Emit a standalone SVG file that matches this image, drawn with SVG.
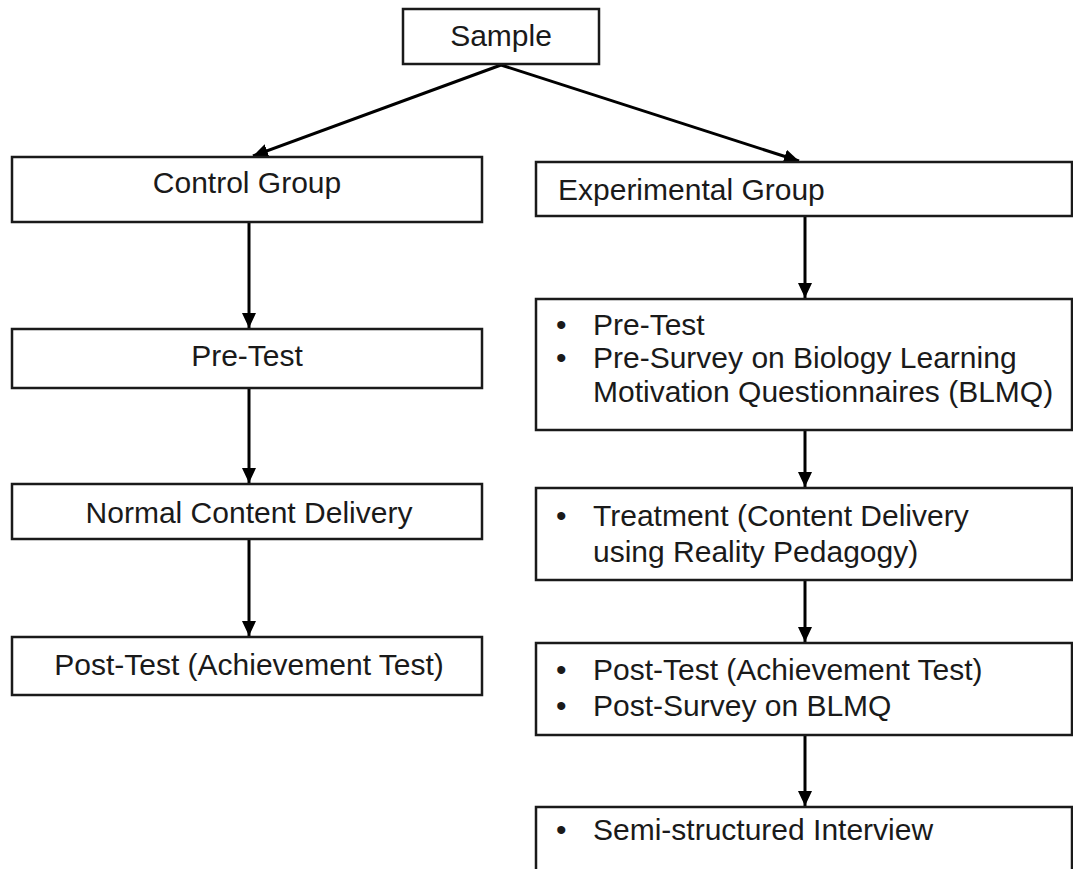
<svg xmlns="http://www.w3.org/2000/svg" width="1073" height="869" viewBox="0 0 1073 869">
  <defs>
    <style>
      .box { fill: #ffffff; stroke: #1a1a1a; stroke-width: 2.5; }
      .lbl { font-family: "Liberation Sans", Arial, sans-serif; font-size: 30px; fill: #1a1a1a; }
      .mid { text-anchor: middle; }
      .conn { stroke: #000000; stroke-width: 3; fill: none; marker-end: url(#arrow); }
    </style>
    <marker id="arrow" markerUnits="userSpaceOnUse" markerWidth="16" markerHeight="14" refX="15" refY="7" orient="auto">
      <path d="M0,0 L15,7 L0,14 z" fill="#000000"/>
    </marker>
  </defs>
  <rect width="1073" height="869" fill="#ffffff"/>

  <g id="connectors">
    <line class="conn" x1="501" y1="65" x2="253" y2="156"/>
    <line class="conn" x1="501" y1="65" x2="799" y2="161"/>
    <line class="conn" x1="249" y1="222" x2="249" y2="328"/>
    <line class="conn" x1="249" y1="388" x2="249" y2="483"/>
    <line class="conn" x1="249" y1="539" x2="249" y2="636"/>
    <line class="conn" x1="805" y1="216" x2="805" y2="298"/>
    <line class="conn" x1="805" y1="430" x2="805" y2="487"/>
    <line class="conn" x1="805" y1="580" x2="805" y2="642"/>
    <line class="conn" x1="805" y1="735" x2="805" y2="806"/>
  </g>

  <g id="sample">
    <rect class="box" x="403" y="9" width="196" height="55"/>
    <text class="lbl mid" x="501" y="46">Sample</text>
  </g>

  <g id="control-group">
    <rect class="box" x="12" y="157" width="470" height="65"/>
    <text class="lbl mid" x="247" y="193">Control Group</text>
  </g>

  <g id="control-pretest">
    <rect class="box" x="12" y="329" width="470" height="59"/>
    <text class="lbl mid" x="247" y="366">Pre-Test</text>
  </g>

  <g id="control-delivery">
    <rect class="box" x="12" y="484" width="470" height="55"/>
    <text class="lbl mid" x="249" y="523">Normal Content Delivery</text>
  </g>

  <g id="control-posttest">
    <rect class="box" x="12" y="637" width="470" height="58"/>
    <text class="lbl mid" x="249" y="675">Post-Test (Achievement Test)</text>
  </g>

  <g id="experimental-group">
    <rect class="box" x="536" y="162" width="536" height="54"/>
    <text class="lbl" x="558" y="200">Experimental Group</text>
  </g>

  <g id="exp-pretest">
    <rect class="box" x="536" y="299" width="536" height="131"/>
    <text class="lbl" x="556" y="335">•</text>
    <text class="lbl" x="593" y="335">Pre-Test</text>
    <text class="lbl" x="556" y="368">•</text>
    <text class="lbl" x="593" y="368">Pre-Survey on Biology Learning</text>
    <text class="lbl" x="593" y="402">Motivation Questionnaires (BLMQ)</text>
  </g>

  <g id="exp-treatment">
    <rect class="box" x="536" y="488" width="536" height="92"/>
    <text class="lbl" x="556" y="526">•</text>
    <text class="lbl" x="593" y="526">Treatment (Content Delivery</text>
    <text class="lbl" x="593" y="562">using Reality Pedagogy)</text>
  </g>

  <g id="exp-posttest">
    <rect class="box" x="536" y="643" width="536" height="92"/>
    <text class="lbl" x="556" y="680">•</text>
    <text class="lbl" x="593" y="680">Post-Test (Achievement Test)</text>
    <text class="lbl" x="556" y="716">•</text>
    <text class="lbl" x="593" y="716">Post-Survey on BLMQ</text>
  </g>

  <g id="exp-interview">
    <rect class="box" x="536" y="807" width="536" height="90"/>
    <text class="lbl" x="556" y="840">•</text>
    <text class="lbl" x="593" y="840">Semi-structured Interview</text>
  </g>
</svg>
